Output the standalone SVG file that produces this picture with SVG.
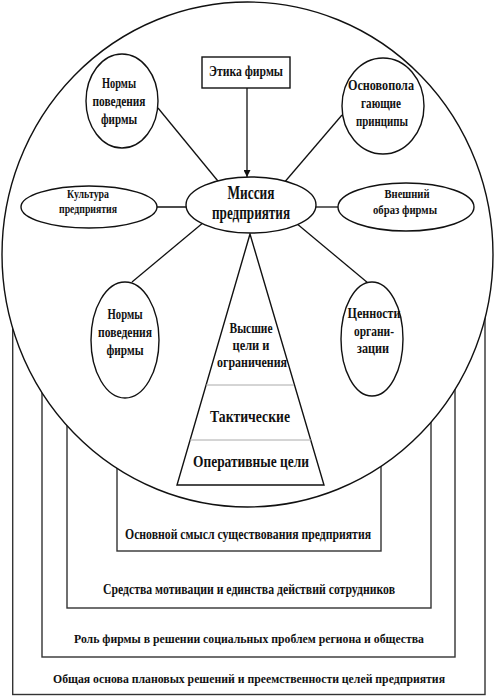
<svg xmlns="http://www.w3.org/2000/svg" width="495" height="696" viewBox="0 0 495 696">
<style>
.fr{fill:none;stroke:#333;stroke-width:1.4}
.nd{fill:#fff;stroke:#111;stroke-width:1.4}
.ln{fill:none;stroke:#111;stroke-width:1.3}
.dv{stroke:#aaa;stroke-width:1}
text{font-family:"Liberation Serif","Times New Roman",serif;font-weight:bold;fill:#111;text-anchor:middle}
.b{font-size:15px}
.bl{font-size:13.5px}
.bx{font-size:12.5px}
.e{font-size:14px}
.s{font-size:12.5px}
.m{font-size:18px}
.t{font-size:16px}
</style>
<defs>
<marker id="ah" viewBox="0 0 10 10" refX="10" refY="5" markerWidth="7" markerHeight="7" orient="auto" markerUnits="userSpaceOnUse">
<path d="M0,0 L10,5 L0,10 z" fill="#111"/>
</marker>
</defs>
<g id="frames">
<g id="frame4"><rect class="fr" x="12.7" y="250" width="472.3" height="444.5"/>
<text class="bx" x="249" y="683" textLength="392" lengthAdjust="spacingAndGlyphs">Общая основа плановых решений и преемственности целей предприятия</text></g>
<g id="frame3"><rect class="fr" x="42" y="250" width="413" height="407"/>
<text class="bl" x="249" y="643" textLength="350" lengthAdjust="spacingAndGlyphs">Роль фирмы в решении социальных проблем региона и общества</text></g>
<g id="frame2"><rect class="fr" x="67" y="250" width="364" height="358"/>
<text class="b" x="249" y="594" textLength="292" lengthAdjust="spacingAndGlyphs">Средства мотивации и единства действий сотрудников</text></g>
<g id="frame1"><rect class="fr" x="117" y="250" width="264" height="301"/>
<text class="b" x="248" y="539" textLength="246" lengthAdjust="spacingAndGlyphs">Основной смысл существования предприятия</text></g>
</g>
<g id="circle"><ellipse class="nd" cx="247.5" cy="254.5" rx="245.5" ry="252.5"/></g>
<g id="connectors">
<line class="ln" x1="158" y1="108" x2="222" y2="186"/>
<line class="ln" x1="342" y1="115" x2="283" y2="184"/>
<line class="ln" x1="156" y1="207" x2="190" y2="207"/>
<line class="ln" x1="312" y1="207" x2="339" y2="207"/>
<line class="ln" x1="132" y1="282" x2="204" y2="222"/>
<line class="ln" x1="368" y1="283" x2="296" y2="223"/>
<line class="ln" x1="247" y1="88" x2="247" y2="177" marker-end="url(#ah)"/>
</g>
<g id="pyramid">
<polygon class="nd" points="250,234 177,485 324,485"/>
<line class="dv" x1="206" y1="385" x2="294" y2="385"/>
<line class="dv" x1="190" y1="440" x2="311" y2="440"/>
<text class="e" x="251" y="333" textLength="43" lengthAdjust="spacingAndGlyphs">Высшие</text>
<text class="e" x="251" y="350" textLength="37" lengthAdjust="spacingAndGlyphs">цели и</text>
<text class="e" x="252" y="367" textLength="70" lengthAdjust="spacingAndGlyphs">ограничения</text>
<text class="t" x="250" y="422" textLength="80" lengthAdjust="spacingAndGlyphs">Тактические</text>
<text class="t" x="251" y="467" textLength="116" lengthAdjust="spacingAndGlyphs">Оперативные цели</text>
</g>
<g id="ethics">
<rect class="nd" x="202" y="57" width="88" height="31"/>
<text class="e" x="246" y="76" textLength="74" lengthAdjust="spacingAndGlyphs">Этика фирмы</text>
</g>
<g id="mission">
<ellipse class="nd" cx="251" cy="205" rx="65" ry="28"/>
<text class="m" x="251" y="199" textLength="47" lengthAdjust="spacingAndGlyphs">Миссия</text>
<text class="m" x="251" y="219" textLength="78" lengthAdjust="spacingAndGlyphs">предприятия</text>
</g>
<g id="norms-top">
<ellipse class="nd" cx="122" cy="101" rx="36" ry="47"/>
<text class="e" x="119" y="88" textLength="34" lengthAdjust="spacingAndGlyphs">Нормы</text>
<text class="e" x="119" y="106" textLength="53" lengthAdjust="spacingAndGlyphs">поведения</text>
<text class="e" x="119" y="124" textLength="36" lengthAdjust="spacingAndGlyphs">фирмы</text>
</g>
<g id="principles">
<ellipse class="nd" cx="383" cy="106" rx="41" ry="48"/>
<text class="e" x="381" y="90" textLength="66" lengthAdjust="spacingAndGlyphs">Основопола</text>
<text class="e" x="381" y="108" textLength="40" lengthAdjust="spacingAndGlyphs">гающие</text>
<text class="e" x="382" y="126" textLength="52" lengthAdjust="spacingAndGlyphs">принципы</text>
</g>
<g id="culture">
<ellipse class="nd" cx="89" cy="207" rx="68" ry="21"/>
<text class="s" x="88" y="198" textLength="42" lengthAdjust="spacingAndGlyphs">Культура</text>
<text class="s" x="88" y="213" textLength="58" lengthAdjust="spacingAndGlyphs">предприятия</text>
</g>
<g id="image">
<ellipse class="nd" cx="406" cy="207" rx="68" ry="24"/>
<text class="s" x="407" y="198" textLength="45" lengthAdjust="spacingAndGlyphs">Внешний</text>
<text class="s" x="405" y="214" textLength="64" lengthAdjust="spacingAndGlyphs">образ фирмы</text>
</g>
<g id="norms-bottom">
<ellipse class="nd" cx="125" cy="340" rx="34" ry="58"/>
<text class="e" x="125" y="319" textLength="35" lengthAdjust="spacingAndGlyphs">Нормы</text>
<text class="e" x="125" y="337" textLength="54" lengthAdjust="spacingAndGlyphs">поведения</text>
<text class="e" x="125" y="355" textLength="37" lengthAdjust="spacingAndGlyphs">фирмы</text>
</g>
<g id="values">
<ellipse class="nd" cx="372" cy="339" rx="31" ry="57"/>
<text class="e" x="374" y="318" textLength="53" lengthAdjust="spacingAndGlyphs">Ценности</text>
<text class="e" x="374" y="336" textLength="40" lengthAdjust="spacingAndGlyphs">органи-</text>
<text class="e" x="373" y="353" textLength="32" lengthAdjust="spacingAndGlyphs">зации</text>
</g>
</svg>
